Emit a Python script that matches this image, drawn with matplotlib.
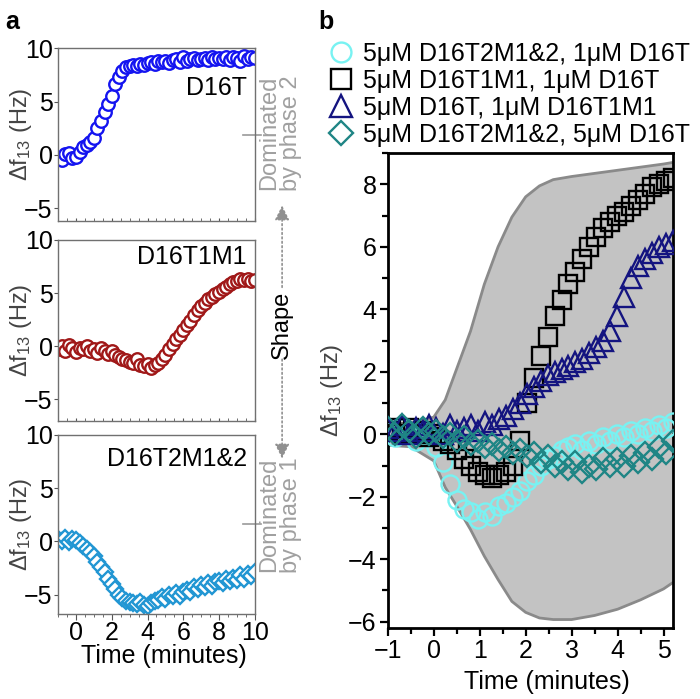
import numpy as np
import matplotlib
matplotlib.use('Agg')
import matplotlib.pyplot as plt
from matplotlib.ticker import MultipleLocator
from matplotlib.patches import FancyArrowPatch

plt.rcParams['font.family'] = ['Liberation Sans', 'DejaVu Sans']
plt.rcParams['mathtext.fontset'] = 'custom'
plt.rcParams['mathtext.rm'] = 'Liberation Sans'
plt.rcParams['mathtext.it'] = 'Liberation Sans'

# Panel a: single-species traces, time in minutes
time_a = np.linspace(-1, 10, 56)
d16t = [-0.3, -0.5, 0.1, 0.2, -0.3, -0.2, 0.3, 0.7, 0.9, 1.2,
        1.6, 2.5, 3.2, 4.0, 4.8, 5.5, 6.6, 7.3, 7.9, 8.2,
        8.3, 8.4, 8.3, 8.5, 8.4, 8.6, 8.7, 8.5, 8.8, 8.7,
        8.8, 8.6, 8.9, 9.0, 8.7, 9.2, 8.8, 9.0, 9.1, 8.9,
        9.0, 9.1, 8.9, 9.2, 9.0, 9.1, 9.0, 9.2, 8.9, 9.2,
        9.1, 8.8, 9.3, 9.0, 9.2, 9.1]
d16t1m1 = [-0.3, 0.0, -0.4, 0.1, -0.2, -0.5, -0.2, -0.3, 0.0, -0.4,
           -0.3, -0.6, -0.2, -0.4, -0.7, -0.4, -0.8, -1.0, -1.2, -1.3,
           -1.5, -1.6, -1.2, -1.8, -1.9, -1.7, -2.0, -1.8, -1.6, -1.2,
           -0.8, -0.3, 0.2, 0.7, 1.1, 1.5, 2.0, 2.4, 2.9, 3.4,
           3.8, 4.1, 4.4, 4.6, 4.9, 5.1, 5.4, 5.6, 5.8, 6.0,
           6.1, 6.3, 6.2, 6.3, 6.1, 6.2]
d16t2m12 = [0.2, 0.0, 0.3, -0.1, 0.2, 0.1, -0.2, -0.4, -0.7, -1.0,
            -1.4, -1.9, -2.4, -2.9, -3.5, -4.0, -4.5, -5.0, -5.3, -5.6,
            -5.7, -5.8, -5.9, -5.7, -6.0, -6.1, -5.8, -5.6, -5.5, -5.2,
            -5.4, -5.0, -5.1, -4.9, -5.1, -4.8, -4.6, -4.8, -4.3, -4.5,
            -4.1, -4.3, -3.9, -4.2, -3.8, -3.7, -3.9, -3.5, -3.7, -3.4,
            -3.6, -3.2, -3.5, -3.1, -3.3, -2.9]

# Panel b: mixtures
time_b = np.linspace(-1, 5.2, 42)
mix_cyan = [0.1, -0.1, 0.2, 0.0, -0.2, 0.1, -0.1, -0.4, -0.9, -1.6,
            -2.1, -2.4, -2.5, -2.7, -2.5, -2.6, -2.3, -2.2, -2.0, -1.8,
            -1.5, -1.3, -1.0, -0.8, -0.7, -0.5, -0.4, -0.3, -0.5, -0.2,
            -0.3, -0.1, -0.2, 0.0, -0.1, 0.1, 0.0, 0.2, 0.1, 0.3,
            0.2, 0.4]
mix_black = [0.1, 0.2, 0.0, 0.2, 0.0, 0.1, -0.1, 0.0, -0.2, -0.3,
             -0.5, -0.8, -1.0, -1.2, -1.3, -1.4, -1.3, -1.2, -1.0, -0.2,
             1.0, 1.8, 2.5, 3.1, 3.8, 4.3, 4.8, 5.2, 5.6, 6.0,
             6.3, 6.6, 6.8, 7.0, 7.1, 7.3, 7.5, 7.7, 7.9, 8.0,
             8.1, 8.2]
mix_navy = [0.2, 0.1, 0.3, 0.0, 0.2, 0.1, 0.3, 0.2, 0.0, 0.3,
            0.1, 0.2, 0.3, 0.1, 0.4, 0.3, 0.5, 0.6, 0.8, 1.0,
            1.3, 1.5, 1.7, 1.9, 2.0, 2.1, 2.2, 2.3, 2.4, 2.6,
            2.8, 3.0, 3.3, 3.8, 4.4, 5.0, 5.4, 5.6, 5.8, 6.0,
            6.1, 6.2]
mix_teal = [0.2, 0.0, 0.3, 0.1, -0.1, 0.2, 0.0, 0.1, -0.1, 0.0,
            -0.2, -0.1, -0.3, -0.2, -0.4, -0.3, -0.5, -0.4, -0.6, -0.5,
            -0.7, -0.6, -0.9, -0.7, -1.0, -0.9, -1.1, -0.9, -1.2, -1.0,
            -1.1, -0.8, -1.0, -0.8, -1.0, -0.7, -0.9, -0.6, -0.8, -0.4,
            -0.6, -0.2]

# envelope of possible mixture shapes
band_t = [-1, -0.5, 0, 0.25, 0.5, 0.8, 1.1, 1.4, 1.7, 2.0, 2.3, 2.6, 3.0, 3.5, 4.0, 4.5, 5.0, 5.2]
band_hi = [0.35, 0.35, 0.55, 1.1, 2.1, 3.3, 4.8, 6.0, 6.95, 7.6, 7.95, 8.15, 8.25, 8.35, 8.45, 8.55, 8.65, 8.7]
band_lo = [-0.35, -0.4, -0.85, -1.7, -2.3, -3.05, -3.9, -4.65, -5.35, -5.7, -5.88, -5.93, -5.93, -5.8, -5.6, -5.3, -4.95, -4.75]

ylab = r'$\Delta$f$_{13}$ (Hz)'
fig = plt.figure(figsize=(7, 6.99), dpi=100)

# ---- panel a ----
left_specs = [
    (d16t, '#1414f0', 'o', 'D16T', 0.77, [0.083, 0.684, 0.281, 0.247], (-6.2, 10)),
    (d16t1m1, '#a01818', 'o', 'D16T1M1', 0.905, [0.083, 0.398, 0.281, 0.259], (-7.0, 10)),
    (d16t2m12, '#2196d3', 'D', 'D16T2M1&2', 0.866, [0.083, 0.122, 0.281, 0.256], (-6.8, 10)),
]
for i, (vals, col, mk, name, ty, rect, ylim) in enumerate(left_specs):
    ax = fig.add_axes(rect)
    ax.plot(time_a, vals, ls='none', marker=mk, ms=9 if mk == 'o' else 8,
            mfc='white', mec=col, mew=1.7)
    ax.set_xlim(-1, 10)
    ax.set_ylim(*ylim)
    ax.set_yticks([-5, 0, 5, 10])
    ax.xaxis.set_major_locator(MultipleLocator(2))
    ax.xaxis.set_minor_locator(MultipleLocator(0.5))
    for s in ax.spines.values():
        s.set_color('#707070')
        s.set_linewidth(1.0)
    ax.tick_params(axis='y', labelsize=18, length=3, color='#555555', pad=1)
    ax.text(0.96, ty, name, transform=ax.transAxes, ha='right', va='center', fontsize=18)
    ax.set_ylabel(ylab, fontsize=17, color='#444444')
    ax.yaxis.set_label_coords(-0.125, 0.5)
    if i < 2:
        ax.tick_params(axis='x', which='both', direction='in', length=2,
                       labelbottom=False, color='#555555')
    else:
        ax.tick_params(axis='x', which='major', direction='out', length=4,
                       labelsize=18, pad=1, color='#555555')
        ax.tick_params(axis='x', which='minor', direction='out', length=2, color='#555555')
        ax.set_xlabel('Time (minutes)', fontsize=18)
        ax.xaxis.set_label_coords(0.54, -0.17)
    if i != 1:
        ax.plot([0.94, 1.03], [0.5, 0.5], transform=ax.transAxes, color='#999999',
                lw=1.2, clip_on=False)

# side annotations between panels
fig.text(0.4, 0.81, 'Dominated\nby phase 2', rotation=90, ha='center', va='center',
         fontsize=17, color='#a0a0a0', linespacing=1.0)
fig.text(0.4, 0.263, 'Dominated\nby phase 1', rotation=90, ha='center', va='center',
         fontsize=17, color='#a0a0a0', linespacing=1.0)
fig.text(0.403, 0.535, 'Shape', rotation=90, ha='center', va='center', fontsize=17)
arr = dict(arrowstyle='-|>', color='#909090', lw=1.2, ls=':', mutation_scale=22)
fig.add_artist(FancyArrowPatch((0.403, 0.585), (0.403, 0.71),
                               transform=fig.transFigure, **arr))
fig.add_artist(FancyArrowPatch((0.403, 0.49), (0.403, 0.34),
                               transform=fig.transFigure, **arr))

# ---- panel b ----
axb = fig.add_axes([0.554, 0.1016, 0.407, 0.6794])
axb.fill_between(band_t, band_lo, band_hi, color='#c3c3c3', lw=0, zorder=1)
axb.plot(band_t, band_hi, color='#8a8a8a', lw=2, zorder=1)
axb.plot(band_t, band_lo, color='#8a8a8a', lw=2, zorder=1)

series_b = [
    (mix_cyan, '#78f2f2', 'o', 13, '5\u03bcM D16T2M1&2, 1\u03bcM D16T'),
    (mix_black, '#000000', 's', 12.5, '5\u03bcM D16T1M1, 1\u03bcM D16T'),
    (mix_navy, '#141480', '^', 14, '5\u03bcM D16T, 1\u03bcM D16T1M1'),
    (mix_teal, '#1f8585', 'D', 11.5, '5\u03bcM D16T2M1&2, 5\u03bcM D16T'),
]
handles = []
for vals, col, mk, ms, lab in series_b:
    h, = axb.plot(time_b, vals, ls='none', marker=mk, ms=ms, mfc='none', mec=col,
                  mew=1.7, label=lab, zorder=3)
    handles.append(h)

axb.set_xlim(-1, 5.2)
axb.set_ylim(-6.2, 9)
axb.xaxis.set_major_locator(MultipleLocator(1))
axb.xaxis.set_minor_locator(MultipleLocator(0.5))
axb.yaxis.set_major_locator(MultipleLocator(2))
axb.yaxis.set_minor_locator(MultipleLocator(1))
for s in axb.spines.values():
    s.set_linewidth(2)
axb.tick_params(which='major', length=6, width=1.6, labelsize=18, pad=2)
axb.tick_params(which='minor', length=4, width=1.6)
axb.set_xlabel('Time (minutes)', fontsize=18)
axb.xaxis.set_label_coords(0.56, -0.088)
axb.set_ylabel(ylab, fontsize=17, color='#444444', labelpad=2)

fig.legend(handles=handles, loc='upper left', bbox_to_anchor=(0.452, 0.958),
           frameon=False, fontsize=18, handlelength=1.0, handletextpad=0.35,
           labelspacing=0.12, borderpad=0, markerscale=1.1)

fig.text(0.008, 0.985, 'a', fontsize=18, fontweight='bold', va='top')
fig.text(0.455, 0.985, 'b', fontsize=18, fontweight='bold', va='top')

fig.savefig('out.png', dpi=100)
